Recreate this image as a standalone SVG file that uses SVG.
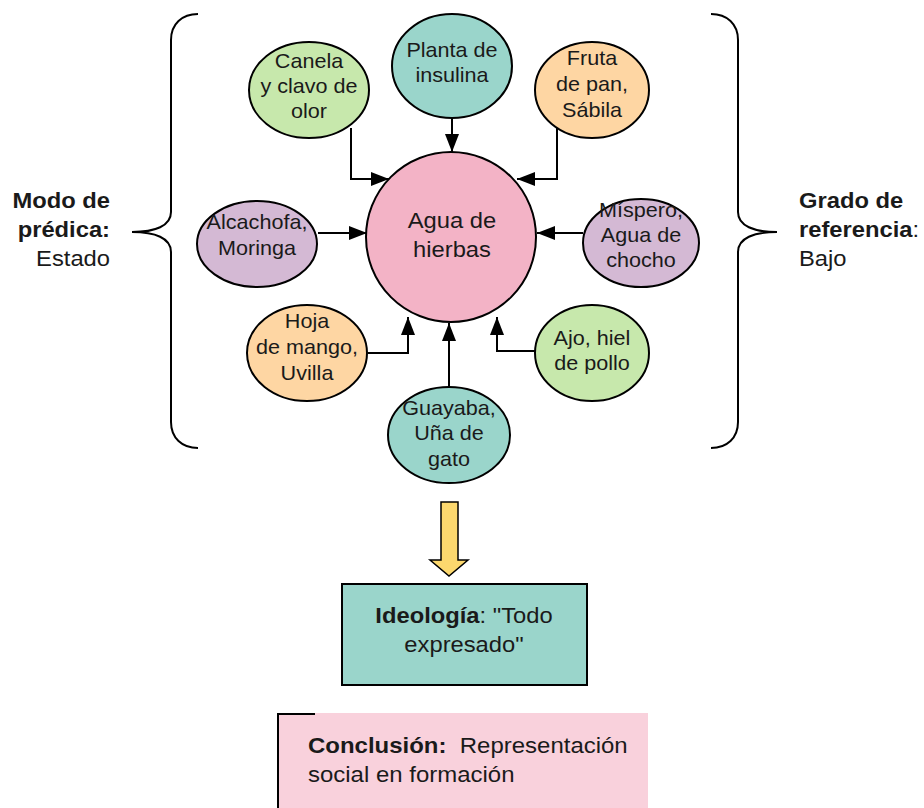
<svg xmlns="http://www.w3.org/2000/svg" width="924" height="808" viewBox="0 0 924 808">
  <defs>
    <marker id="arr" viewBox="0 0 18 14" refX="18" refY="7" markerWidth="18" markerHeight="14" markerUnits="userSpaceOnUse" orient="auto">
      <path d="M0,0 L18,7 L0,14 z" fill="#000"/>
    </marker>
    <style>
      text { font-family: "Liberation Sans", Arial, sans-serif; fill: #1a1a1a; }
      .n { font-size: 20px; text-anchor: middle; }
      .c { font-size: 22px; text-anchor: middle; }
      .lbl { font-size: 22px; }
      .box { font-size: 22px; }
      .b { font-weight: bold; }
      .node { stroke: #000; stroke-width: 2; }
      .green { fill: #c7e8ac; }
      .teal { fill: #9ad5cb; }
      .peach { fill: #fed6a3; }
      .lav { fill: #d4b9d4; }
      .pink { fill: #f3b3c6; }
      .conn path { fill: none; stroke: #000; stroke-width: 2; marker-end: url(#arr); }
      .brace { fill: none; stroke: #000; stroke-width: 2; }
    </style>
  </defs>
  <rect width="924" height="808" fill="#fff"/>

  <!-- braces -->
  <path class="brace" d="M198,14 C182,14 171,24 171,40 L171,212 C171,226 155,232 132,232 C155,232 171,238 171,252 L171,422 C171,438 182,448 198,448"/>
  <path class="brace" d="M711,14 C727,14 738,24 738,40 L738,212 C738,226 754,232 777,232 C754,232 738,238 738,252 L738,422 C738,438 727,448 711,448"/>

  <!-- side labels -->
  <g id="modo" transform="translate(110 0) scale(1.08 1)">
    <text class="lbl b" x="0" y="208" text-anchor="end">Modo de</text>
    <text class="lbl b" x="0" y="237" text-anchor="end">prédica:</text>
    <text class="lbl" x="0" y="266" text-anchor="end">Estado</text>
  </g>
  <g id="grado" transform="translate(799 0) scale(1.08 1)">
    <text class="lbl b" x="0" y="208">Grado de</text>
    <text class="lbl" x="0" y="237"><tspan class="b">referencia</tspan>:</text>
    <text class="lbl" x="0" y="266">Bajo</text>
  </g>

  <!-- connectors -->
  <g class="conn">
    <path d="M351,128 L351,179 L389,179"/>
    <path d="M452,118 L452,152"/>
    <path d="M557,128 L557,179 L517,179"/>
    <path d="M318,233 L367,233"/>
    <path d="M583,233 L537,233"/>
    <path d="M368,353 L408,353 L408,317"/>
    <path d="M449,388 L449,323"/>
    <path d="M536,351 L497,351 L497,317"/>
  </g>

  <!-- nodes -->
  <g id="agua">
    <circle class="node pink" cx="451" cy="237" r="85"/>
    <g transform="translate(452 0) scale(1.08 1)">
      <text class="c" x="0" y="228">Agua de</text>
      <text class="c" x="0" y="257">hierbas</text>
    </g>
  </g>
  <g id="canela">
    <ellipse class="node green" cx="309" cy="90" rx="60" ry="48"/>
    <g transform="translate(309 0) scale(1.08 1)">
      <text class="n" x="0" y="68">Canela</text>
      <text class="n" x="0" y="93">y clavo de</text>
      <text class="n" x="0" y="118">olor</text>
    </g>
  </g>
  <g id="planta">
    <ellipse class="node teal" cx="452" cy="66" rx="60" ry="52"/>
    <g transform="translate(452 0) scale(1.08 1)">
      <text class="n" x="0" y="57">Planta de</text>
      <text class="n" x="0" y="82">insulina</text>
    </g>
  </g>
  <g id="fruta">
    <ellipse class="node peach" cx="592" cy="90" rx="57" ry="48"/>
    <g transform="translate(592 0) scale(1.08 1)">
      <text class="n" x="0" y="65">Fruta</text>
      <text class="n" x="0" y="91">de pan,</text>
      <text class="n" x="0" y="117">Sábila</text>
    </g>
  </g>
  <g id="alcachofa">
    <ellipse class="node lav" cx="257" cy="244" rx="60" ry="43"/>
    <g transform="translate(257 0) scale(1.08 1)">
      <text class="n" x="0" y="229">Alcachofa,</text>
      <text class="n" x="0" y="255">Moringa</text>
    </g>
  </g>
  <g id="mispero">
    <ellipse class="node lav" cx="641" cy="243" rx="58" ry="44"/>
    <g transform="translate(641 0) scale(1.08 1)">
      <text class="n" x="0" y="217">Míspero,</text>
      <text class="n" x="0" y="242">Agua de</text>
      <text class="n" x="0" y="267">chocho</text>
    </g>
  </g>
  <g id="hoja">
    <ellipse class="node peach" cx="307" cy="353" rx="60" ry="48"/>
    <g transform="translate(307 0) scale(1.08 1)">
      <text class="n" x="0" y="328">Hoja</text>
      <text class="n" x="0" y="354">de mango,</text>
      <text class="n" x="0" y="380">Uvilla</text>
    </g>
  </g>
  <g id="guayaba">
    <ellipse class="node teal" cx="449" cy="435" rx="61" ry="48"/>
    <g transform="translate(449 0) scale(1.08 1)">
      <text class="n" x="0" y="415">Guayaba,</text>
      <text class="n" x="0" y="440">Uña de</text>
      <text class="n" x="0" y="466">gato</text>
    </g>
  </g>
  <g id="ajo">
    <ellipse class="node green" cx="592" cy="353" rx="57" ry="48"/>
    <g transform="translate(592 0) scale(1.08 1)">
      <text class="n" x="0" y="345">Ajo, hiel</text>
      <text class="n" x="0" y="370">de pollo</text>
    </g>
  </g>

  <!-- block arrow down -->
  <path d="M441,502 L458,502 L458,560 L468,560 L449,576 L430,560 L441,560 Z" fill="#fcd86e" stroke="#000" stroke-width="1.5" stroke-linejoin="miter"/>

  <g id="ideologia">
    <rect x="342" y="584" width="245" height="101" fill="#9ad5cb" stroke="#000" stroke-width="2"/>
    <g transform="translate(464 0) scale(1.08 1)">
      <text class="box" x="0" y="623" text-anchor="middle"><tspan class="b">Ideología</tspan>: "Todo</text>
      <text class="box" x="0" y="652" text-anchor="middle">expresado"</text>
    </g>
  </g>

  <g id="conclusion">
    <rect x="277" y="713" width="371" height="100" fill="#f9d1dc"/>
    <path d="M278,808 L278,714 L315,714" fill="none" stroke="#000" stroke-width="2"/>
    <g transform="translate(308 0) scale(1.09 1)">
      <text class="box" x="0" y="753"><tspan class="b">Conclusión:</tspan>&#160; Representación</text>
      <text class="box" x="0" y="782">social en formación</text>
    </g>
  </g>
</svg>
